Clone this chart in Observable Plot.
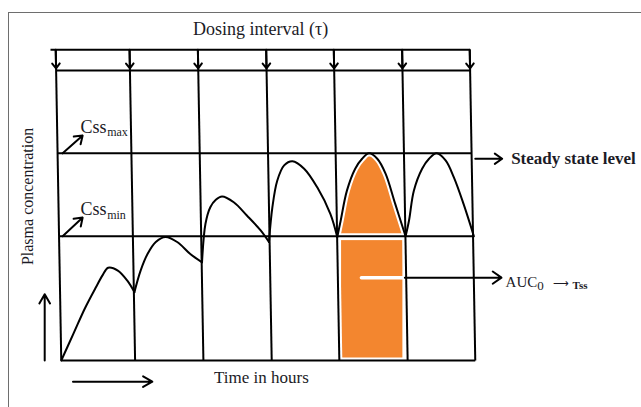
<!DOCTYPE html>
<html><head><meta charset="utf-8">
<script src="https://cdn.jsdelivr.net/npm/d3@7"></script>
<script src="https://cdn.jsdelivr.net/npm/@observablehq/plot@0.6"></script>
<style>
html,body{margin:0;padding:0;background:#fff;}
#wrap{position:relative;width:641px;height:407px;overflow:hidden;}
#frame{position:absolute;left:8px;top:12px;width:640px;height:400px;border-left:1.5px solid #6e6e6e;border-top:1.5px solid #6e6e6e;}
#chart{position:absolute;left:0;top:0;}
#chart svg{display:block;background:transparent;}
</style></head><body>
<div id="wrap"><div id="frame"></div><div id="chart"></div></div>
<script>
// dose times (in dosing intervals)
const doseTimes = [0, 1.07, 2.06, 3.05, 4.03, 5.02, 6.0];
// concentration levels
const cssMin = 3;
const cssMax = 5;
const topLine = 7;
const bracketTop = 7.5;
// plasma concentration curve: time, concentration, dose segment
const curveTime = [
  0.04, 0.22, 0.38, 0.54, 0.64, 0.72, 0.86, 1.00, 1.10,
  1.10, 1.19, 1.29, 1.41, 1.55, 1.72, 1.91, 2.08,
  2.08, 2.13, 2.20, 2.28, 2.37, 2.54, 2.73, 2.93, 3.05,
  3.05, 3.10, 3.17, 3.27, 3.39, 3.56, 3.75, 3.94, 4.04,
  4.04, 4.09, 4.18, 4.30, 4.40, 4.50, 4.62, 4.74, 4.88, 5.03,
  5.03, 5.08, 5.15, 5.27, 5.37, 5.48, 5.61, 5.73, 5.87, 6.02
];
const curveConc = [
  0.00, 0.66, 1.25, 1.76, 2.06, 2.24, 2.17, 1.92, 1.65,
  1.65, 2.17, 2.57, 2.86, 2.98, 2.86, 2.57, 2.37,
  2.37, 3.30, 3.70, 3.88, 3.96, 3.82, 3.50, 3.14, 2.86,
  2.86, 3.70, 4.34, 4.71, 4.81, 4.63, 4.18, 3.54, 2.98,
  2.98, 3.38, 4.10, 4.63, 4.87, 5.00, 4.87, 4.51, 3.78, 3.00,
  3.00, 3.38, 4.10, 4.63, 4.87, 5.00, 4.83, 4.42, 3.78, 3.00
];
const curveDose = [
  1,1,1,1,1,1,1,1,1,
  2,2,2,2,2,2,2,2,
  3,3,3,3,3,3,3,3,3,
  4,4,4,4,4,4,4,4,4,
  5,5,5,5,5,5,5,5,5,5,
  6,6,6,6,6,6,6,6,6,6
];
const aucDose = 5;
const levelLines = [0, cssMin, cssMax, topLine];

const curve = curveTime.map((t, i) => ({t, c: curveConc[i], dose: curveDose[i]}));
const aucCurve = curve.filter(d => d.dose === aucDose);

// the hand-drawn verticals lean slightly
const leanAt = c => 0.04 * (1 - 2 * c / bracketTop);
const tFirst = doseTimes[0], tLast = doseTimes[doseTimes.length - 1];

const ORANGE = "#F3862F";
const INK = "#1b1b26";
const serif = "Liberation Serif, Times New Roman, serif";
const CURVE = "catmull-rom";

const vert = {x1: d => d + leanAt(bracketTop), y1: bracketTop, x2: d => d + leanAt(0), y2: 0};
const horiz = {x1: c => tFirst + leanAt(c), y1: c => c, x2: c => tLast + leanAt(c), y2: c => c};

const plot = Plot.plot({
  width: 641, height: 407,
  marginLeft: 58, marginRight: 169, marginTop: 70, marginBottom: 47,
  x: {domain: [0, 6], axis: null},
  y: {domain: [0, 7], axis: null},
  style: {fontFamily: serif, background: "transparent", overflow: "visible"},
  marks: [
    // AUC shading
    Plot.areaY(aucCurve, {x: "t", y1: cssMin, y2: "c", curve: CURVE, fill: ORANGE}),
    Plot.rect([doseTimes[aucDose - 1]], {x1: d => d, x2: () => doseTimes[aucDose], y1: 0, y2: cssMin,
      fill: ORANGE, insetLeft: 5, insetRight: 2, insetTop: 4.4, insetBottom: 2}),
    // white halos so orange keeps a gap from ink
    Plot.link(doseTimes, {...vert, stroke: "white", strokeWidth: 6}),
    Plot.link(levelLines, {...horiz, stroke: "white", strokeWidth: 6}),
    Plot.line(aucCurve, {x: "t", y: "c", curve: CURVE, stroke: "white", strokeWidth: 6}),
    // white start of AUC pointer inside the shading
    Plot.link([0], {x1: 4.39, y1: 2, x2: doseTimes[aucDose], y2: 2, stroke: "white", strokeWidth: 3.5, strokeLinecap: "round"}),
    // grid of dose lines and levels
    Plot.link(doseTimes, {...vert, stroke: "black", strokeWidth: 2}),
    Plot.link(levelLines, {...horiz, stroke: "black", strokeWidth: 2}),
    Plot.link([0], {x1: -0.116, y1: bracketTop, x2: tLast + leanAt(bracketTop), y2: bracketTop, stroke: "black", strokeWidth: 2}),
    Plot.arrow(doseTimes, {x1: d => d + leanAt(bracketTop), y1: bracketTop, x2: d => d + leanAt(7.05), y2: 7.05,
      stroke: "black", strokeWidth: 2, headLength: 8, headAngle: 75}),
    // concentration curve
    Plot.line(curve, {x: "t", y: "c", z: "dose", curve: CURVE, stroke: "black", strokeWidth: 2}),
    // pointers
    Plot.arrow([0], {x1: 0.06, y1: cssMax, x2: 0.35, y2: 5.43, stroke: "black", strokeWidth: 2, headLength: 7, headAngle: 70}),
    Plot.arrow([0], {x1: 0.06, y1: cssMin, x2: 0.35, y2: 3.45, stroke: "black", strokeWidth: 2, headLength: 7, headAngle: 70}),
    Plot.arrow([0], {x1: 6.04, y1: 4.87, x2: 6.43, y2: 4.87, stroke: "black", strokeWidth: 2, headLength: 8, headAngle: 70}),
    Plot.arrow([0], {x1: doseTimes[aucDose], y1: 2, x2: 6.42, y2: 2, stroke: "black", strokeWidth: 2, headLength: 8, headAngle: 70}),
    Plot.arrow([0], {x1: -0.2, y1: 0, x2: -0.2, y2: 1.6, stroke: "black", strokeWidth: 2, headLength: 8, headAngle: 60}),
    Plot.arrow([0], {x1: 0.21, y1: -0.51, x2: 1.36, y2: -0.51, stroke: "black", strokeWidth: 2, headLength: 8, headAngle: 60}),
    // texts
    Plot.text(["Dosing interval (τ)"], {x: 2.93, y: 8.0, fontSize: 18, fill: INK, textAnchor: "middle"}),
    Plot.text(["Time in hours"], {x: 2.94, y: -0.40, fontSize: 17, fill: INK, textAnchor: "middle"}),
    Plot.text(["Plasma concentration"], {x: -0.45, y: 3.96, fontSize: 16, fill: INK, rotate: -90, textAnchor: "middle"}),
    Plot.text(["Css"], {x: 0.32, y: 5.62, fontSize: 18, fill: INK, textAnchor: "start"}),
    Plot.text(["max"], {x: 0.705, y: 5.50, fontSize: 12, fill: INK, textAnchor: "start"}),
    Plot.text(["Css"], {x: 0.32, y: 3.64, fontSize: 18, fill: INK, textAnchor: "start"}),
    Plot.text(["min"], {x: 0.705, y: 3.52, fontSize: 12, fill: INK, textAnchor: "start"}),
    Plot.text(["Steady state level"], {x: 6.56, y: 4.88, fontSize: 17, fontWeight: "bold", fill: INK, textAnchor: "start"}),
    Plot.text(["AUC"], {x: 6.48, y: 1.88, fontSize: 15, fill: INK, textAnchor: "start"}),
    Plot.text(["0"], {x: 6.94, y: 1.80, fontSize: 13, fill: INK, textAnchor: "start"}),
    Plot.text(["⟶"], {x: 7.17, y: 1.86, fontSize: 11, fill: INK, textAnchor: "start"}),
    Plot.text(["Tss"], {x: 7.45, y: 1.80, fontSize: 11, fontWeight: "bold", fill: INK, textAnchor: "start"})
  ]
});
document.getElementById("chart").appendChild(plot);
</script>
</body></html>
